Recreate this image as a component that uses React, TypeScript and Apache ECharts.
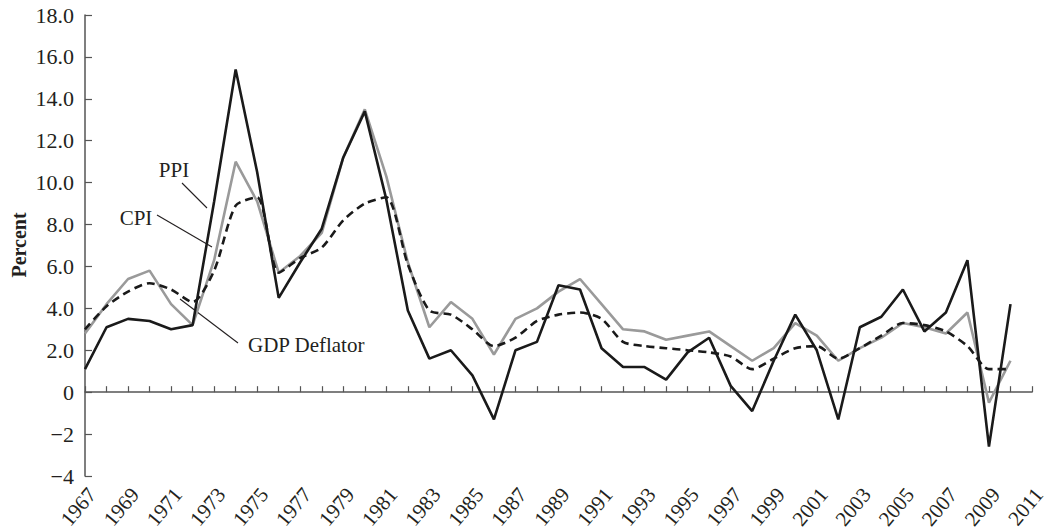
import React, { useEffect, useRef } from "react";
import * as echarts from "echarts";

const years: string[] = [];
for (let y = 1967; y <= 2011; y++) years.push(String(y));

const ppi = [
  1.1, 3.1, 3.5, 3.4, 3.0, 3.2, 9.1, 15.4, 10.5, 4.5,
  6.2, 7.8, 11.2, 13.4, 9.2, 3.9, 1.6, 2.0, 0.8, -1.3,
  2.0, 2.4, 5.1, 4.9, 2.1, 1.2, 1.2, 0.6, 1.9, 2.6,
  0.3, -0.9, 1.5, 3.7, 2.0, -1.3, 3.1, 3.6, 4.9, 2.9,
  3.8, 6.3, -2.6, 4.2,
];

const cpi = [
  2.8, 4.2, 5.4, 5.8, 4.2, 3.2, 6.3, 11.0, 9.1, 5.7,
  6.5, 7.6, 11.2, 13.5, 10.3, 6.2, 3.1, 4.3, 3.5, 1.8,
  3.5, 4.0, 4.8, 5.4, 4.2, 3.0, 2.9, 2.5, 2.7, 2.9,
  2.2, 1.5, 2.1, 3.3, 2.7, 1.5, 2.1, 2.6, 3.3, 3.1,
  2.8, 3.8, -0.5, 1.5,
];

const gdpDeflator = [
  3.0, 4.1, 4.8, 5.2, 4.9, 4.3, 5.8, 8.9, 9.3, 5.7,
  6.4, 6.9, 8.2, 9.0, 9.3, 6.1, 3.9, 3.7, 3.0, 2.2,
  2.6, 3.4, 3.7, 3.8, 3.5, 2.4, 2.2, 2.1, 2.0, 1.9,
  1.7, 1.1, 1.6, 2.1, 2.2, 1.6, 2.1, 2.7, 3.3, 3.2,
  2.9, 2.2, 1.1, 1.1,
];

const FONT = "Liberation Serif";
const INK = "#231f20";
const AXIS = "#555555";

export default function App() {
  const ref = useRef<HTMLDivElement>(null);
  useEffect(() => {
    if (!ref.current) return;
    const chart = echarts.init(ref.current, undefined, { renderer: "svg" });
    chart.setOption({
      animation: false,
      backgroundColor: "#ffffff",
      textStyle: { fontFamily: FONT },
      grid: { left: 85, right: 15, top: 15, bottom: 56, containLabel: false, outerBoundsMode: "none" },
      xAxis: {
        type: "category",
        data: years,
        boundaryGap: false,
        axisLine: { lineStyle: { color: AXIS, width: 1.5 } },
        axisTick: { show: true, inside: true, length: 6, interval: 0, lineStyle: { color: AXIS, width: 1.2 } },
        axisLabel: {
          interval: 1,
          rotate: 50,
          margin: 9,
          fontSize: 21,
          lineHeight: 18,
          color: INK,
          fontFamily: FONT,
          verticalAlign: "top",
        },
        splitLine: { show: false },
      },
      yAxis: {
        type: "value",
        min: -4,
        max: 18,
        interval: 2,
        axisLine: { show: true, lineStyle: { color: AXIS, width: 1.5 } },
        axisTick: { show: true, inside: true, length: 7, lineStyle: { color: AXIS, width: 1.2 } },
        axisLabel: {
          margin: 11,
          fontSize: 22,
          color: INK,
          fontFamily: FONT,
          formatter: (v: number) => (v > 0 ? v.toFixed(1) : v === 0 ? "0" : "\u2212" + Math.abs(v)),
        },
        splitLine: { show: false },
      },
      series: [
        {
          name: "GDP Deflator",
          type: "line",
          data: gdpDeflator,
          symbol: "none",
          smooth: 0.25,
          lineStyle: { color: "#1a1a1a", width: 2.6, type: [8, 5] },
          z: 3,
        },
        {
          name: "CPI",
          type: "line",
          data: cpi,
          symbol: "none",
          lineStyle: { color: "#9a9a9a", width: 2.6 },
          z: 2,
        },
        {
          name: "PPI",
          type: "line",
          data: ppi,
          symbol: "none",
          lineStyle: { color: "#1a1a1a", width: 2.6 },
          z: 4,
        },
      ],
      graphic: [
        {
          type: "text",
          x: 19,
          y: 245,
          rotation: Math.PI / 2,
          style: {
            text: "Percent",
            fontFamily: FONT,
            fontSize: 20,
            fontWeight: "bold",
            fill: INK,
            align: "center",
            verticalAlign: "middle",
          },
        },
        {
          type: "text",
          x: 174,
          y: 170,
          style: { text: "PPI", fontFamily: FONT, fontSize: 21, fill: INK, align: "center", verticalAlign: "middle" },
        },
        {
          type: "line",
          shape: { x1: 182, y1: 183, x2: 207, y2: 208 },
          style: { stroke: INK, lineWidth: 1.1 },
        },
        {
          type: "text",
          x: 136,
          y: 218,
          style: { text: "CPI", fontFamily: FONT, fontSize: 21, fill: INK, align: "center", verticalAlign: "middle" },
        },
        {
          type: "line",
          shape: { x1: 157, y1: 215, x2: 212, y2: 247 },
          style: { stroke: INK, lineWidth: 1.1 },
        },
        {
          type: "text",
          x: 248,
          y: 345,
          style: { text: "GDP Deflator", fontFamily: FONT, fontSize: 21, fill: INK, align: "left", verticalAlign: "middle" },
        },
        {
          type: "line",
          shape: { x1: 180, y1: 299, x2: 238, y2: 343 },
          style: { stroke: INK, lineWidth: 1.1 },
        },
      ],
    });
    return () => chart.dispose();
  }, []);
  return (
    <div
      ref={ref}
      style={{ position: "fixed", left: 0, top: 0, width: 1047, height: 532, background: "#fff" }}
    />
  );
}
